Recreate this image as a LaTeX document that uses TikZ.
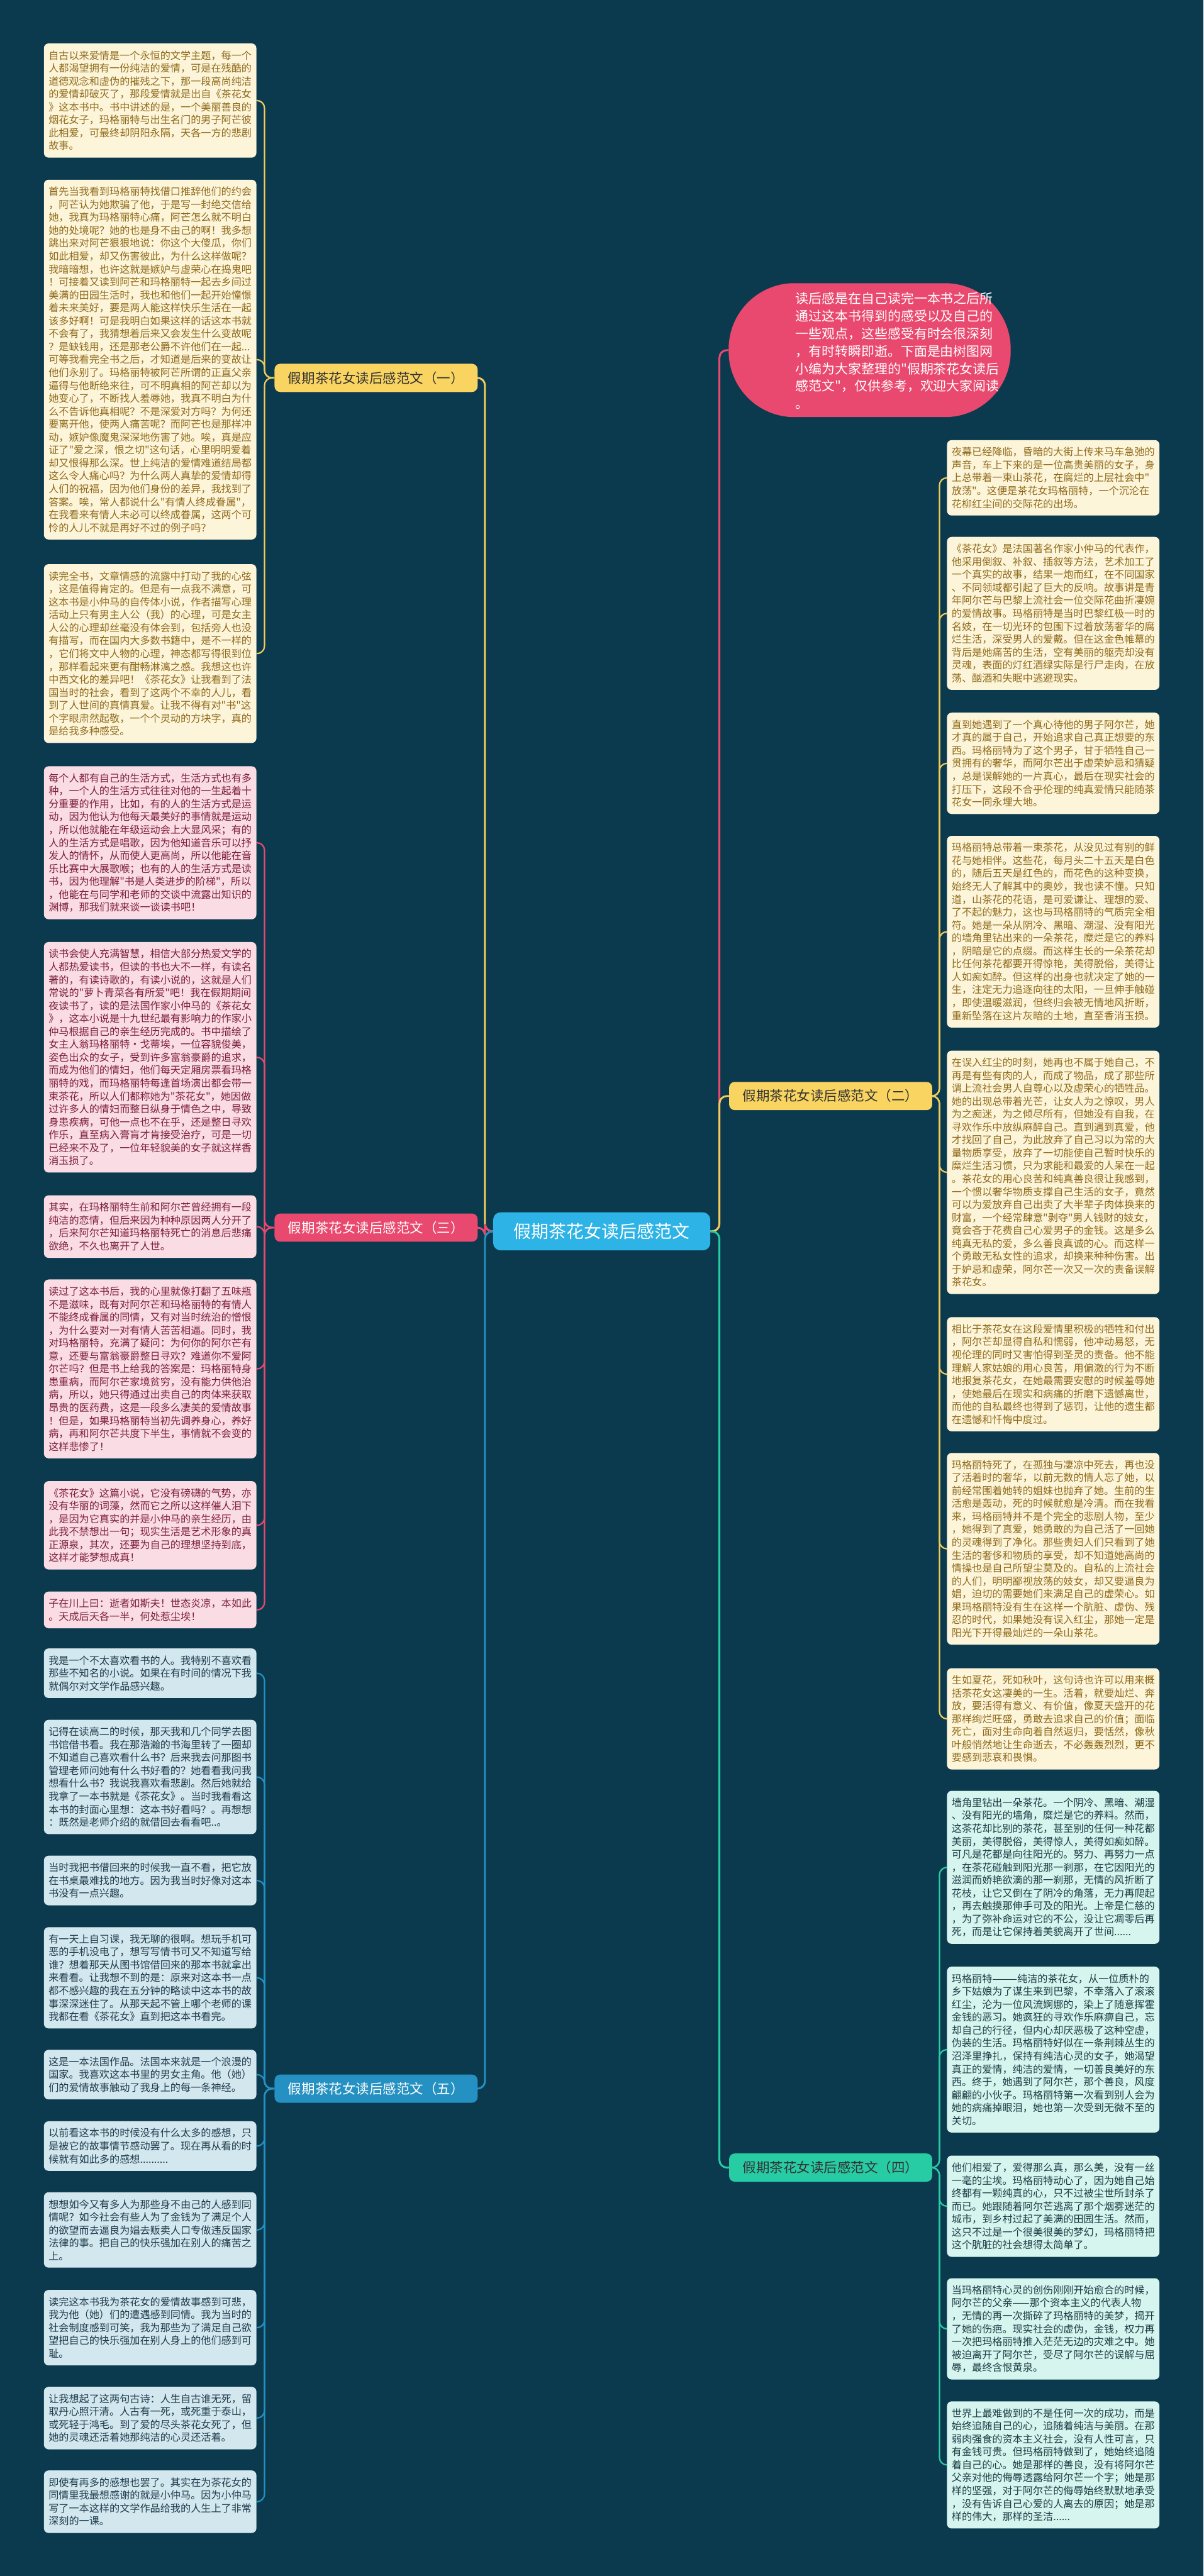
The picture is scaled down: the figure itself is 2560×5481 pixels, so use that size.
\documentclass[tikz,border=0pt]{standalone}
\usepackage{fontspec}
\newfontfamily\cjk{Noto Sans CJK SC}
\definecolor{bg}{HTML}{0B3A4E}
\definecolor{goldline}{HTML}{F2CB5A}
\definecolor{goldlab}{HTML}{F9D461}
\definecolor{goldfill}{HTML}{FDF5DA}
\definecolor{goldtext}{HTML}{8F6A1A}
\definecolor{pinkline}{HTML}{E9496E}
\definecolor{pinkfill}{HTML}{FADCE4}
\definecolor{pinktext}{HTML}{7D1F3C}
\definecolor{blueline}{HTML}{2590C2}
\definecolor{bluefill}{HTML}{D3E7EF}
\definecolor{bluetext}{HTML}{1D3B4B}
\definecolor{tealline}{HTML}{27CCA5}
\definecolor{tealfill}{HTML}{D5F5EE}
\definecolor{tealtext}{HTML}{1D3B45}
\definecolor{rootfill}{HTML}{2DB3E6}
\tikzset{
  leafbase/.style={rounded corners=5pt, text width=216pt, inner xsep=5pt, inner ysep=0pt, align=left, font=\cjk\fontsize{10.8pt}{13.75pt}\selectfont},
  goldleaf/.style={leafbase, fill=goldfill, text=goldtext},
  pinkleaf/.style={leafbase, fill=pinkfill, text=pinktext},
  blueleaf/.style={leafbase, fill=bluefill, text=bluetext},
  tealleaf/.style={leafbase, fill=tealfill, text=tealtext},
  branchbox/.style={rounded corners=6pt, minimum width=216pt, minimum height=30pt, inner sep=0pt, font=\cjk\fontsize{14.4pt}{16pt}\selectfont},
  rootbox/.style={rounded corners=8pt, minimum width=231pt, minimum height=40.5pt, inner sep=0pt, fill=rootfill, text=white, font=\cjk\fontsize{18.7pt}{22pt}\selectfont},
  introbox/.style={rounded corners=70pt, minimum width=300pt, minimum height=142.5pt, inner sep=0pt, fill=pinkline},
  introtext/.style={inner sep=0pt, text width=222pt, align=left, text=white, font=\cjk\fontsize{14pt}{18.6pt}\selectfont},
  conn/.style={rounded corners=8pt, line width=1.5pt},
  trunk/.style={rounded corners=8pt, line width=2pt},
}
\newcommand{\mkleaf}[5]{\node[#2, anchor=north west, minimum height={#4*13.75pt+11.5pt}] (#1) at #3 {#5};}
\begin{document}
\begin{tikzpicture}[x=0.5pt, y=-0.5pt]
\fill[bg] (0,0) rectangle (2560,5481);
\useasboundingbox (0,0) rectangle (2560,5481);

% root and branches
\node[rootbox] (root) at (1280,2620) {假期茶花女读后感范文};
\node[branchbox, fill=goldlab, text=black!80] (b1) at (800,804) {假期茶花女读后感范文（一）};
\node[branchbox, fill=goldlab, text=black!80] (b2) at (1767,2332) {假期茶花女读后感范文（二）};
\node[branchbox, fill=pinkline, text=white] (b3) at (800,2612) {假期茶花女读后感范文（三）};
\node[branchbox, fill=tealline, text=black!80] (b4) at (1767,4612) {假期茶花女读后感范文（四）};
\node[branchbox, fill=blueline, text=white] (b5) at (800,4444) {假期茶花女读后感范文（五）};

% intro bubble
\node[introbox] (intro) at (1850,745) {};
\node[introtext, anchor=north west] (introtxt) at (1692,622) {读后感是在自己读完一本书之后所\\通过这本书得到的感受以及自己的\\一些观点，这些感受有时会很深刻\\，有时转瞬即逝。下面是由树图网\\小编为大家整理的"假期茶花女读后\\感范文"，仅供参考，欢迎大家阅读\\。};

% left leaves
\mkleaf{L1}{goldleaf}{(93,92)}{8}{自古以来爱情是一个永恒的文学主题，每一个\\人都渴望拥有一份纯洁的爱情，可是在残酷的\\道德观念和虚伪的摧残之下，那一段高尚纯洁\\的爱情却破灭了，那段爱情就是出自《茶花女\\》这本书中。书中讲述的是，一个美丽善良的\\烟花女子，玛格丽特与出生名门的男子阿芒彼\\此相爱，可最终却阴阳永隔，天各一方的悲剧\\故事。}
\mkleaf{L2}{goldleaf}{(93,382)}{27}{首先当我看到玛格丽特找借口推辞他们的约会\\，阿芒认为她欺骗了他，于是写一封绝交信给\\她，我真为玛格丽特心痛，阿芒怎么就不明白\\她的处境呢？她的也是身不由己的啊！我多想\\跳出来对阿芒狠狠地说：你这个大傻瓜，你们\\如此相爱，却又伤害彼此，为什么这样做呢？\\我暗暗想，也许这就是嫉妒与虚荣心在捣鬼吧\\！可接着又读到阿芒和玛格丽特一起去乡间过\\美满的田园生活时，我也和他们一起开始憧憬\\着未来美好，要是两人能这样快乐生活在一起\\该多好啊！可是我明白如果这样的话这本书就\\不会有了，我猜想着后来又会发生什么变故呢\\？是缺钱用，还是那老公爵不许他们在一起...\\可等我看完全书之后，才知道是后来的变故让\\他们永别了。玛格丽特被阿芒所谓的正直父亲\\逼得与他断绝来往，可不明真相的阿芒却以为\\她变心了，不断找人羞辱她，我真不明白为什\\么不告诉他真相呢？不是深爱对方吗？为何还\\要离开他，使两人痛苦呢？而阿芒也是那样冲\\动，嫉妒像魔鬼深深地伤害了她。唉，真是应\\证了"爱之深，恨之切"这句话，心里明明爱着\\却又恨得那么深。世上纯洁的爱情难道结局都\\这么令人痛心吗？为什么两人真挚的爱情却得\\人们的祝福，因为他们身份的差异，我找到了\\答案。唉，常人都说什么"有情人终成眷属"，\\在我看来有情人未必可以终成眷属，这两个可\\怜的人儿不就是再好不过的例子吗？}
\mkleaf{L3}{goldleaf}{(93,1200)}{13}{读完全书，文章情感的流露中打动了我的心弦\\，这是值得肯定的。但是有一点我不满意，可\\这本书是小仲马的自传体小说，作者描写心理\\活动上只有男主人公（我）的心理，可是女主\\人公的心理却丝毫没有体会到，包括旁人也没\\有描写，而在国内大多数书籍中，是不一样的\\，它们将文中人物的心理，神态都写得很到位\\，那样看起来更有酣畅淋漓之感。我想这也许\\中西文化的差异吧！《茶花女》让我看到了法\\国当时的社会，看到了这两个不幸的人儿，看\\到了人世间的真情真爱。让我不得有对"书"这\\个字眼肃然起敬，一个个灵动的方块字，真的\\是给我多种感受。}
\mkleaf{L4}{pinkleaf}{(93,1630)}{11}{每个人都有自己的生活方式，生活方式也有多\\种，一个人的生活方式往往对他的一生起着十\\分重要的作用，比如，有的人的生活方式是运\\动，因为他认为他每天最美好的事情就是运动\\，所以他就能在年级运动会上大显风采；有的\\人的生活方式是唱歌，因为他知道音乐可以抒\\发人的情怀，从而使人更高尚，所以他能在音\\乐比赛中大展歌喉；也有的人的生活方式是读\\书，因为他理解"书是人类进步的阶梯"，所以\\，他能在与同学和老师的交谈中流露出知识的\\渊博，那我们就来谈一谈读书吧！}
\mkleaf{L5}{pinkleaf}{(93,2004)}{17}{读书会使人充满智慧，相信大部分热爱文学的\\人都热爱读书，但读的书也大不一样，有读名\\著的，有读诗歌的，有读小说的，这就是人们\\常说的"萝卜青菜各有所爱"吧！我在假期期间\\夜读书了，读的是法国作家小仲马的《茶花女\\》，这本小说是十九世纪最有影响力的作家小\\仲马根据自己的亲生经历完成的。书中描绘了\\女主人翁玛格丽特·戈蒂埃，一位容貌俊美，\\姿色出众的女子，受到许多富翁豪爵的追求，\\而成为他们的情妇，他们每天定厢房票看玛格\\丽特的戏，而玛格丽特每逢首场演出都会带一\\束茶花，所以人们都称她为"茶花女"，她因做\\过许多人的情妇而整日纵身于情色之中，导致\\身患疾病，可他一点也不在乎，还是整日寻欢\\作乐，直至病入膏肓才肯接受治疗，可是一切\\已经来不及了，一位年轻貌美的女子就这样香\\消玉损了。}
\mkleaf{L6}{pinkleaf}{(93,2543)}{4}{其实，在玛格丽特生前和阿尔芒曾经拥有一段\\纯洁的恋情，但后来因为种种原因两人分开了\\，后来阿尔芒知道玛格丽特死亡的消息后悲痛\\欲绝，不久也离开了人世。}
\mkleaf{L7}{pinkleaf}{(93,2722)}{13}{读过了这本书后，我的心里就像打翻了五味瓶\\不是滋味，既有对阿尔芒和玛格丽特的有情人\\不能终成眷属的同情，又有对当时统治的憎恨\\，为什么要对一对有情人苦苦相逼。同时，我\\对玛格丽特，充满了疑问：为何你的阿尔芒有\\意，还要与富翁豪爵整日寻欢？难道你不爱阿\\尔芒吗？但是书上给我的答案是：玛格丽特身\\患重病，而阿尔芒家境贫穷，没有能力供他治\\病，所以，她只得通过出卖自己的肉体来获取\\昂贵的医药费，这是一段多么凄美的爱情故事\\！但是，如果玛格丽特当初先调养身心，养好\\病，再和阿尔芒共度下半生，事情就不会变的\\这样悲惨了！}
\mkleaf{L8}{pinkleaf}{(93,3151)}{6}{《茶花女》这篇小说，它没有磅礴的气势，亦\\没有华丽的词藻，然而它之所以这样催人泪下\\，是因为它真实的并是小仲马的亲生经历，由\\此我不禁想出一句；现实生活是艺术形象的真\\正源泉，其次，还要为自己的理想坚持到底，\\这样才能梦想成真！}
\mkleaf{L9}{pinkleaf}{(93,3386)}{2}{子在川上曰：逝者如斯夫！世态炎凉，本如此\\。天成后天各一半，何处惹尘埃！}
\mkleaf{L10}{blueleaf}{(93,3507)}{3}{我是一个不太喜欢看书的人。我特别不喜欢看\\那些不知名的小说。如果在有时间的情况下我\\就偶尔对文学作品感兴趣。}
\mkleaf{L11}{blueleaf}{(93,3659)}{8}{记得在读高二的时候，那天我和几个同学去图\\书馆借书看。我在那浩瀚的书海里转了一圈却\\不知道自己喜欢看什么书？后来我去问那图书\\管理老师问她有什么书好看的？她看看我问我\\想看什么书？我说我喜欢看悲剧。然后她就给\\我拿了一本书就是《茶花女》。当时我看看这\\本书的封面心里想：这本书好看吗？。再想想\\：既然是老师介绍的就借回去看看吧..。}
\mkleaf{L12}{blueleaf}{(93,3948)}{3}{当时我把书借回来的时候我一直不看，把它放\\在书桌最难找的地方。因为我当时好像对这本\\书没有一点兴趣。}
\mkleaf{L13}{blueleaf}{(93,4100)}{7}{有一天上自习课，我无聊的很啊。想玩手机可\\恶的手机没电了，想写写情书可又不知道写给\\谁？想着那天从图书馆借回来的那本书就拿出\\来看看。让我想不到的是：原来对这本书一点\\都不感兴趣的我在五分钟的略读中这本书的故\\事深深迷住了。从那天起不管上哪个老师的课\\我都在看《茶花女》直到把这本书看完。}
\mkleaf{L14}{blueleaf}{(93,4361)}{3}{这是一本法国作品。法国本来就是一个浪漫的\\国家。我喜欢这本书里的男女主角。他（她）\\们的爱情故事触动了我身上的每一条神经。}
\mkleaf{L15}{blueleaf}{(93,4513)}{3}{以前看这本书的时候没有什么太多的感想，只\\是被它的故事情节感动罢了。现在再从看的时\\候就有如此多的感想..........}
\mkleaf{L16}{blueleaf}{(93,4664)}{5}{想想如今又有多人为那些身不由己的人感到同\\情呢？如今社会有些人为了金钱为了满足个人\\的欲望而去逼良为娼去贩卖人口专做违反国家\\法律的事。把自己的快乐强加在别人的痛苦之\\上。}
\mkleaf{L17}{blueleaf}{(93,4872)}{5}{读完这本书我为茶花女的爱情故事感到可悲，\\我为他（她）们的遭遇感到同情。我为当时的\\社会制度感到可笑，我为那些为了满足自己欲\\望把自己的快乐强加在别人身上的他们感到可\\耻。}
\mkleaf{L18}{blueleaf}{(93,5078)}{4}{让我想起了这两句古诗：人生自古谁无死，留\\取丹心照汗清。人古有一死，或死重于泰山，\\或死轻于鸿毛。到了爱的尽头茶花女死了，但\\她的灵魂还活着她那纯洁的心灵还活着。}
\mkleaf{L19}{blueleaf}{(93,5256)}{4}{即使有再多的感想也罢了。其实在为茶花女的\\同情里我最想感谢的就是小仲马。因为小仲马\\写了一本这样的文学作品给我的人生上了非常\\深刻的一课。}

% right leaves
\mkleaf{R1}{goldleaf}{(2014,936)}{5}{夜幕已经降临，昏暗的大街上传来马车急弛的\\声音，车上下来的是一位高贵美丽的女子，身\\上总带着一束山茶花，在腐烂的上层社会中"\\放荡"。这便是茶花女玛格丽特，一个沉沦在\\花柳红尘间的交际花的出场。}
\mkleaf{R2}{goldleaf}{(2014,1142)}{11}{《茶花女》是法国著名作家小仲马的代表作，\\他采用倒叙、补叙、插叙等方法，艺术加工了\\一个真实的故事，结果一炮而红，在不同国家\\、不同领域都引起了巨大的反响。故事讲是青\\年阿尔芒与巴黎上流社会一位交际花曲折凄婉\\的爱情故事。玛格丽特是当时巴黎红极一时的\\名妓，在一切光环的包围下过着放荡奢华的腐\\烂生活，深受男人的爱戴。但在这金色帷幕的\\背后是她痛苦的生活，空有美丽的躯壳却没有\\灵魂，表面的灯红酒绿实际是行尸走肉，在放\\荡、酗酒和失眠中逃避现实。}
\mkleaf{R3}{goldleaf}{(2014,1516)}{7}{直到她遇到了一个真心待他的男子阿尔芒，她\\才真的属于自己，开始追求自己真正想要的东\\西。玛格丽特为了这个男子，甘于牺牲自己一\\贯拥有的奢华，而阿尔芒出于虚荣妒忌和猜疑\\，总是误解她的一片真心，最后在现实社会的\\打压下，这段不合乎伦理的纯真爱情只能随茶\\花女一同永埋大地。}
\mkleaf{R4}{goldleaf}{(2014,1778)}{14}{玛格丽特总带着一束茶花，从没见过有别的鲜\\花与她相伴。这些花，每月头二十五天是白色\\的，随后五天是红色的，而花色的这种变换，\\始终无人了解其中的奥妙，我也读不懂。只知\\道，山茶花的花语，是可爱谦让、理想的爱、\\了不起的魅力，这也与玛格丽特的气质完全相\\符。她是一朵从阴冷、黑暗、潮湿、没有阳光\\的墙角里钻出来的一朵茶花，糜烂是它的养料\\，阴暗是它的点缀。而这样生长的一朵茶花却\\比任何茶花都要开得惊艳，美得脱俗，美得让\\人如痴如醉。但这样的出身也就决定了她的一\\生，注定无力追逐向往的太阳，一旦伸手触碰\\，即使温暖滋润，但终归会被无情地风折断，\\重新坠落在这片灰暗的土地，直至香消玉损。}
\mkleaf{R5}{goldleaf}{(2014,2235)}{18}{在误入红尘的时刻，她再也不属于她自己，不\\再是有些有肉的人，而成了物品，成了那些所\\谓上流社会男人自尊心以及虚荣心的牺牲品。\\她的出现总带着光芒，让女人为之惊叹，男人\\为之痴迷，为之倾尽所有，但她没有自我，在\\寻欢作乐中放纵麻醉自己。直到遇到真爱，他\\才找回了自己，为此放弃了自己习以为常的大\\量物质享受，放弃了一切能使自己暂时快乐的\\糜烂生活习惯，只为求能和最爱的人呆在一起\\。茶花女的用心良苦和纯真善良很让我感到，\\一个惯以奢华物质支撑自己生活的女子，竟然\\可以为爱放弃自己出卖了大半辈子肉体换来的\\财富，一个经常肆意"剥夺"男人钱财的妓女，\\竟会吝于花费自己心爱男子的金钱。这是多么\\纯真无私的爱，多么善良真诚的心。而这样一\\个勇敢无私女性的追求，却换来种种伤害。出\\于妒忌和虚荣，阿尔芒一次又一次的责备误解\\茶花女。}
\mkleaf{R6}{goldleaf}{(2014,2802)}{8}{相比于茶花女在这段爱情里积极的牺牲和付出\\，阿尔芒却显得自私和懦弱，他冲动易怒，无\\视伦理的同时又害怕得到圣灵的责备。他不能\\理解人家姑娘的用心良苦，用偏激的行为不断\\地报复茶花女，在她最需要安慰的时候羞辱她\\，使她最后在现实和病痛的折磨下遗憾离世，\\而他的自私最终也得到了惩罚，让他的遗生都\\在遗憾和忏悔中度过。}
\mkleaf{R7}{goldleaf}{(2014,3091)}{14}{玛格丽特死了，在孤独与凄凉中死去，再也没\\了活着时的奢华，以前无数的情人忘了她，以\\前经常围着她转的姐妹也抛弃了她。生前的生\\活愈是轰动，死的时候就愈是冷清。而在我看\\来，玛格丽特并不是个完全的悲剧人物，至少\\，她得到了真爱，她勇敢的为自己活了一回她\\的灵魂得到了净化。那些贵妇人们只看到了她\\生活的奢侈和物质的享受，却不知道她高尚的\\情操也是自己所望尘莫及的。自私的上流社会\\的人们，明明鄙视放荡的妓女，却又要逼良为\\娼，迫切的需要她们来满足自己的虚荣心。如\\果玛格丽特没有生在这样一个肮脏、虚伪、残\\忍的时代，如果她没有误入红尘，那她一定是\\阳光下开得最灿烂的一朵山茶花。}
\mkleaf{R8}{goldleaf}{(2014,3549)}{7}{生如夏花，死如秋叶，这句诗也许可以用来概\\括茶花女这凄美的一生。活着，就要灿烂、奔\\放，要活得有意义、有价值，像夏天盛开的花\\那样绚烂旺盛，勇敢去追求自己的价值；面临\\死亡，面对生命向着自然返归，要恬然，像秋\\叶般悄然地让生命逝去，不必轰轰烈烈，更不\\要感到悲哀和畏惧。}
\mkleaf{R9}{tealleaf}{(2014,3810)}{11}{墙角里钻出一朵茶花。一个阴冷、黑暗、潮湿\\、没有阳光的墙角，糜烂是它的养料。然而，\\这茶花却比别的茶花，甚至别的任何一种花都\\美丽，美得脱俗，美得惊人，美得如痴如醉。\\可凡是花都是向往阳光的。努力、再努力一点\\，在茶花碰触到阳光那一刹那，在它因阳光的\\滋润而娇艳欲滴的那一刹那，无情的风折断了\\花枝，让它又倒在了阴冷的角落，无力再爬起\\，再去触摸那伸手可及的阳光。上帝是仁慈的\\，为了弥补命运对它的不公，没让它凋零后再\\死，而是让它保持着美貌离开了世间......}
\mkleaf{R10}{tealleaf}{(2014,4184)}{12}{玛格丽特———纯洁的茶花女，从一位质朴的\\乡下姑娘为了谋生来到巴黎，不幸落入了滚滚\\红尘，沦为一位风流婀娜的，染上了随意挥霍\\金钱的恶习。她疯狂的寻欢作乐麻痹自己，忘\\却自己的行径，但内心却厌恶极了这种空虚，\\伪装的生活。玛格丽特好似在一条荆棘丛生的\\沼泽里挣扎，保持有纯洁心灵的女子，她渴望\\真正的爱情，纯洁的爱情，一切善良美好的东\\西。终于，她遇到了阿尔芒，那个善良，风度\\翩翩的小伙子。玛格丽特第一次看到别人会为\\她的病痛掉眼泪，她也第一次受到无微不至的\\关切。}
\mkleaf{R11}{tealleaf}{(2014,4586)}{7}{他们相爱了，爱得那么真，那么美，没有一丝\\一毫的尘埃。玛格丽特动心了，因为她自己始\\终都有一颗纯真的心，只不过被尘世所封杀了\\而已。她跟随着阿尔芒逃离了那个烟雾迷茫的\\城市，到乡村过起了美满的田园生活。然而，\\这只不过是一个很美很美的梦幻，玛格丽特把\\这个肮脏的社会想得太简单了。}
\mkleaf{R12}{tealleaf}{(2014,4847)}{7}{当玛格丽特心灵的创伤刚刚开始愈合的时候，\\阿尔芒的父亲——那个资本主义的代表人物\\，无情的再一次撕碎了玛格丽特的美梦，揭开\\了她的伤疤。现实社会的虚伪，金钱，权力再\\一次把玛格丽特推入茫茫无边的灾难之中。她\\被迫离开了阿尔芒，受尽了阿尔芒的误解与屈\\辱，最终含恨黄泉。}
\mkleaf{R13}{tealleaf}{(2014,5109)}{9}{世界上最难做到的不是任何一次的成功，而是\\始终追随自己的心，追随着纯洁与美丽。在那\\弱肉强食的资本主义社会，没有人性可言，只\\有金钱可贵。但玛格丽特做到了，她始终追随\\着自己的心。她是那样的善良，没有将阿尔芒\\父亲对他的侮辱透露给阿尔芒一个字；她是那\\样的坚强，对于阿尔芒的侮辱始终默默地承受\\，没有告诉自己心爱的人离去的原因；她是那\\样的伟大，那样的圣洁......}

% trunks
\draw[trunk, goldline] (root.west) -- ++(-17,0) |- (b1.east);
\draw[trunk, pinkline] (root.west) -- ++(-17,0) |- (b3.east);
\draw[trunk, blueline] (root.west) -- ++(-17,0) |- (b5.east);
\draw[trunk, pinkline] (root.east) -- ++(19,0) |- (intro.west);
\draw[trunk, goldline] (root.east) -- ++(19,0) |- (b2.west);
\draw[trunk, tealline] (root.east) -- ++(19,0) |- (b4.west);

% leaf connectors
\foreach \n in {L1,L2,L3} \draw[conn, goldline] (b1.west) -- ++(-21,0) |- (\n.east);
\foreach \n in {L4,L5,L6,L7,L8,L9} \draw[conn, pinkline] (b3.west) -- ++(-21,0) |- (\n.east);
\foreach \n in {L10,L11,L12,L13,L14,L15,L16,L17,L18,L19} \draw[conn, blueline] (b5.west) -- ++(-21,0) |- (\n.east);
\foreach \n in {R1,R2,R3,R4,R5,R6,R7,R8} \draw[conn, goldline] (b2.east) -- ++(15,0) |- (\n.west);
\foreach \n in {R9,R10,R11,R12,R13} \draw[conn, tealline] (b4.east) -- ++(15,0) |- (\n.west);
\end{tikzpicture}
\end{document}
